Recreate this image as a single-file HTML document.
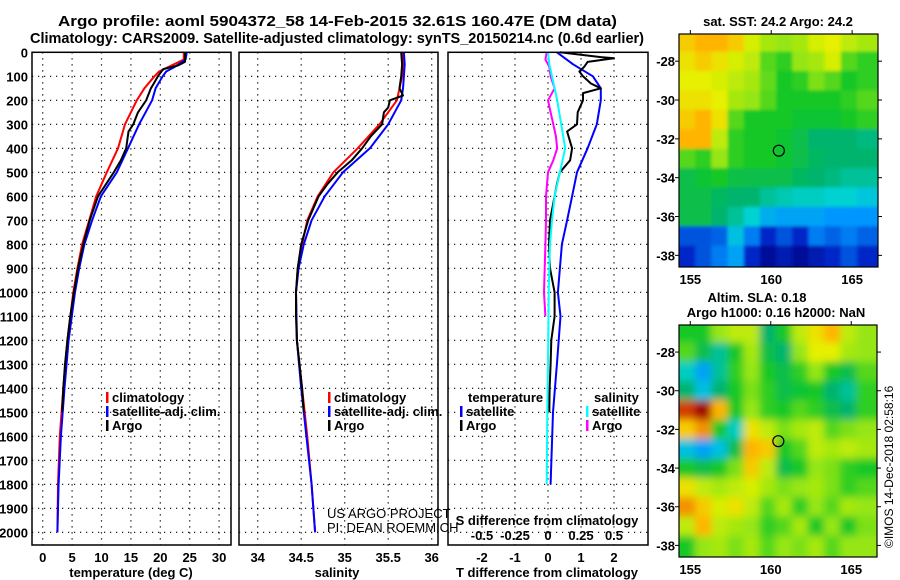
<!DOCTYPE html>
<html><head><meta charset="utf-8">
<style>
html,body{margin:0;padding:0;background:#fff;}
svg{display:block;font-family:"Liberation Sans",Arial,sans-serif;}
.t{font-weight:bold;font-size:13px;}
.h{font-weight:bold;font-size:15px;}
</style></head>
<body>
<svg id="fig" width="900" height="580" viewBox="0 0 900 580" xmlns="http://www.w3.org/2000/svg">
<defs>
<filter id="blurS" x="0" y="0" width="1" height="1"><feGaussianBlur stdDeviation="4" edgeMode="duplicate"/></filter>
<filter id="blurT" x="0" y="0" width="1" height="1"><feGaussianBlur stdDeviation="1.5" edgeMode="duplicate"/></filter>
<clipPath id="clip1"><rect x="679" y="34" width="199" height="233"/></clipPath>
<clipPath id="clip2"><rect x="679" y="325" width="198" height="232"/></clipPath>
</defs>
<rect width="900" height="580" fill="#fff"/>
<text class="h" x="58" y="26" textLength="559" lengthAdjust="spacingAndGlyphs">Argo profile: aoml 5904372_58 14-Feb-2015 32.61S 160.47E (DM data)</text>
<text class="h" x="30" y="43" textLength="614" lengthAdjust="spacingAndGlyphs">Climatology: CARS2009. Satellite-adjusted climatology: synTS_20150214.nc (0.6d earlier)</text>
<g id="g"></g>
<text font-size="12" transform="translate(893,548) rotate(-90)">©IMOS 14-Dec-2018 02:58:16</text>
</svg>
<script>
// ---- profile data ----
const tDepthArgo = [0,40,55,70,100,130,150,200,250,300,330,400,450,500,600,700,800,900,1000,1100,1200,1300,1400,1500];
const tArgo      = [24.2,24.2,23,20.5,19.6,18.9,18.4,17.6,16.2,15.4,14.6,14.2,13.3,12.1,9.4,8.0,6.9,6.0,5.3,4.7,4.2,3.8,3.5,3.3];
const tDepthClim = [0,30,60,80,100,150,200,300,400,500,600,700,800,900,1000,1200,1400,1600,1800,2000];
const tClim      = [24.0,24.0,21.5,19.8,19.0,17.3,16.0,14.0,12.8,10.9,9.1,7.9,6.7,5.9,5.2,4.2,3.5,2.9,2.6,2.5];
const tSat       = [24.5,24.3,22.5,21.0,20.4,19.2,18.6,16.4,14.5,12.6,9.9,8.4,7.1,6.2,5.5,4.4,3.7,3.1,2.7,2.5];
const sDepthArgo = [0,50,100,150,180,200,230,250,300,350,400,450,500,550,600,700,800,900,1000,1100,1200,1300,1400,1500];
const sArgo      = [35.65,35.66,35.65,35.63,35.67,35.52,35.5,35.45,35.43,35.3,35.2,35.08,34.92,34.8,34.7,34.58,34.5,34.46,34.44,34.44,34.45,34.48,34.51,34.53];
const sDepthClim = [0,50,100,150,200,300,400,500,600,700,800,900,1000,1200,1400,1600,1800,2000];
const sClim      = [35.66,35.67,35.66,35.63,35.6,35.4,35.15,34.87,34.69,34.57,34.51,34.46,34.44,34.45,34.51,34.57,34.62,34.66];
const sSat       = [35.68,35.69,35.68,35.67,35.65,35.5,35.29,34.98,34.77,34.62,34.53,34.47,34.44,34.45,34.5,34.56,34.62,34.66];
// differences
const dDepthSat  = [0,50,100,150,200,300,400,500,600,700,800,900,1000,1100,1300,1500,1800];
const dTSat      = [0.27,0.76,1.36,1.6,1.6,1.48,1.2,0.88,0.73,0.58,0.42,0.36,0.3,0.38,0.27,0.15,0.08];
const dSSat      = [0,0.01,0.03,0.05,0.07,0.1,0.13,0.09,0.05,0.03,0.015,0.01,0.005,0.004,0.0,-0.005,-0.01];
const dDepthArgoT = [0,20,25,40,60,80,100,130,150,170,200,250,300,330,400,450,500,550,600,700,800,900,1000,1100,1200,1300,1400,1500];
const dTArgo      = [0.36,1.6,2.0,1.2,1.1,0.95,1.06,1.3,1.6,1.06,1.06,0.9,0.88,0.58,0.73,0.67,0.36,0.27,0.2,0.06,0.03,0.06,0.2,0.2,0.1,0.08,0.05,0.04];
const dDepthArgoS = [0,30,60,100,150,200,250,300,350,400,450,500,600,700,800,1000,1100];
const dSArgo      = [-0.01,-0.02,0.01,0.02,0.05,0.0,0.02,0.04,0.06,0.07,0.04,0.0,-0.015,-0.015,-0.02,-0.03,-0.02];
const depthTicks = [0,100,200,300,400,500,600,700,800,900,1000,1100,1200,1300,1400,1500,1600,1700,1800,1900,2000];
const tTicks = [0,5,10,15,20,25,30];
const sTicks = [34,34.5,35,35.5,36];
const tdTicks = [-2,-1,0,1,2];
const sdTicks = [-0.5,-0.25,0,0.25,0.5];
// ---- map data (value 0..1 on colour scale), rows lat -27..-38, cols lon 154.8..165.8 ----
const mapLats = [-27,-28,-29,-30,-31,-32,-33,-34,-35,-36,-37,-38];
const mapLons = [154.8,155.8,156.8,157.8,158.8,159.8,160.8,161.8,162.8,163.8,164.8,165.8];
const sstGrid = [
[0.85,0.88,0.88,0.85,0.78,0.72,0.70,0.72,0.78,0.80,0.75,0.72],
[0.82,0.85,0.82,0.78,0.75,0.65,0.62,0.70,0.72,0.78,0.65,0.62],
[0.80,0.80,0.78,0.75,0.72,0.66,0.60,0.62,0.68,0.65,0.60,0.62],
[0.82,0.82,0.80,0.72,0.70,0.65,0.60,0.60,0.60,0.60,0.62,0.65],
[0.85,0.88,0.82,0.65,0.60,0.60,0.60,0.58,0.58,0.58,0.60,0.62],
[0.88,0.88,0.75,0.62,0.60,0.60,0.58,0.55,0.50,0.50,0.50,0.48],
[0.65,0.62,0.70,0.62,0.60,0.60,0.58,0.55,0.52,0.50,0.50,0.50],
[0.55,0.58,0.60,0.56,0.55,0.55,0.55,0.52,0.50,0.48,0.45,0.45],
[0.55,0.55,0.52,0.50,0.50,0.45,0.42,0.40,0.40,0.38,0.38,0.36],
[0.55,0.55,0.50,0.45,0.38,0.32,0.30,0.30,0.30,0.28,0.28,0.28],
[0.20,0.20,0.22,0.35,0.25,0.15,0.20,0.15,0.25,0.22,0.25,0.22],
[0.15,0.20,0.25,0.30,0.15,0.05,0.10,0.05,0.10,0.15,0.20,0.15]];
const slaGrid = [
[0.60,0.60,0.70,0.75,0.75,0.50,0.60,0.75,0.82,0.88,0.75,0.70],
[0.65,0.55,0.45,0.60,0.72,0.55,0.50,0.70,0.80,0.80,0.72,0.70],
[0.40,0.30,0.45,0.62,0.70,0.60,0.55,0.62,0.70,0.60,0.55,0.65],
[0.50,0.35,0.50,0.60,0.68,0.62,0.55,0.58,0.60,0.50,0.45,0.62],
[0.95,1.00,0.88,0.60,0.70,0.62,0.60,0.65,0.62,0.55,0.50,0.62],
[0.85,0.90,0.60,0.40,0.82,0.75,0.68,0.72,0.75,0.65,0.68,0.70],
[0.35,0.30,0.35,0.55,0.88,0.85,0.60,0.65,0.75,0.72,0.75,0.72],
[0.60,0.55,0.60,0.68,0.85,0.75,0.55,0.60,0.70,0.68,0.62,0.60],
[0.82,0.75,0.72,0.75,0.78,0.72,0.68,0.70,0.72,0.68,0.62,0.65],
[0.90,0.85,0.78,0.82,0.75,0.65,0.72,0.62,0.70,0.65,0.72,0.70],
[0.75,0.88,0.75,0.72,0.70,0.62,0.65,0.72,0.60,0.70,0.60,0.68],
[0.60,0.70,0.72,0.68,0.72,0.65,0.70,0.68,0.72,0.65,0.70,0.70]];
const floatLon = 160.47, floatLat = -32.61;
const latTicks = [-28,-30,-32,-34,-36,-38];
const lonTicks = [155,160,165];

const NS="http://www.w3.org/2000/svg";
const G=document.getElementById('g');
function el(tag,attrs,parent){const e=document.createElementNS(NS,tag);for(const k in attrs)e.setAttribute(k,attrs[k]);(parent||G).appendChild(e);return e;}
const Y0=52.3, PXD=0.24, BOT=545;
const yD=d=>Y0+d*PXD;
const xT=v=>42.7+v*5.88;
const xS=v=>257.7+(v-34)*87;
const xTd=v=>548+v*33;
const xSd=v=>548+v*132;
const panels=[{x0:32,x1:231,name:'temperature-panel'},{x0:239,x1:438,name:'salinity-panel'},{x0:448,x1:648,name:'difference-panel'}];

function grid(p,xs){
  depthTicks.forEach(d=>{const l=el('line',{x1:p.x0,x2:p.x1,y1:yD(d),y2:yD(d),stroke:'#000','stroke-width':1.2,'stroke-dasharray':'1.2 4.8'});
    
    });
  xs.forEach(x=>{const l=el('line',{x1:x,x2:x,y1:Y0,y2:BOT,stroke:'#000','stroke-width':1.2,'stroke-dasharray':'1.2 4.8'});
    
    });
}
function frame(p){const r=el('rect',{x:p.x0,y:Y0,width:p.x1-p.x0,height:BOT-Y0,fill:'none',stroke:'#000','stroke-width':1.5});
  
  }
function line(depths,vals,fx,color,name,w){
  const pts=depths.map((d,i)=>fx(vals[i]).toFixed(1)+','+yD(d).toFixed(1)).join(' ');
  const l=el('polyline',{points:pts,fill:'none',stroke:color,'stroke-width':w||2,'stroke-linejoin':'round'});
  
  
}
function txt(x,y,s,opt){const t=el('text',Object.assign({x:x,y:y,class:'t'},opt||{}));t.textContent=s;return t;}

grid(panels[0],tTicks.map(xT));
grid(panels[1],sTicks.map(xS));
grid(panels[2],tdTicks.map(xTd));
line(tDepthClim,tClim,xT,'#f00','temperature-climatology-line');
line(tDepthClim,tSat,xT,'#00f','temperature-satellite-line');
line(tDepthArgo,tArgo,xT,'#000','temperature-argo-line');
line(sDepthClim,sClim,xS,'#f00','salinity-climatology-line');
line(sDepthClim,sSat,xS,'#00f','salinity-satellite-line');
line(sDepthArgo,sArgo,xS,'#000','salinity-argo-line');
line(dDepthSat,dTSat,xTd,'#00f','t-diff-satellite-line');
line(dDepthArgoT,dTArgo,xTd,'#000','t-diff-argo-line');
line(dDepthArgoS,dSArgo,xSd,'#f0f','s-diff-argo-line');
line(dDepthSat,dSSat,xSd,'#0ff','s-diff-satellite-line');
panels.forEach(frame);

depthTicks.forEach(d=>{const t=txt(28,yD(d)+5,String(d),{'text-anchor':'end'});
  
  });
tTicks.forEach(v=>{const t=txt(xT(v),562,String(v),{'text-anchor':'middle'});
  
  });
sTicks.forEach(v=>{const t=txt(xS(v),562,String(v),{'text-anchor':'middle'});
  
  });
tdTicks.forEach(v=>{const t=txt(xTd(v),562,String(v),{'text-anchor':'middle'});
  
  });
sdTicks.forEach(v=>{const t=txt(xSd(v),540,String(v),{'text-anchor':'middle'});
  
  });
let a;
a=txt(131,577,'temperature (deg C)',{'text-anchor':'middle'});
a=txt(337,577,'salinity',{'text-anchor':'middle'});
a=txt(547,577,'T difference from climatology',{'text-anchor':'middle'});
a=txt(547,525,'S difference from climatology',{'text-anchor':'middle'});

function legend(x,y,color,label,name){
  const r=el('rect',{x:x,y:y-10,width:2.5,height:11,fill:color});
  
  
  const t=txt(x+6,y,label);
  
  
}
legend(106,402,'#f00','climatology','legend-t-climatology');
legend(106,416,'#00f','satellite-adj. clim.','legend-t-satellite');
legend(106,430,'#000','Argo','legend-t-argo');
legend(328,402,'#f00','climatology','legend-s-climatology');
legend(328,416,'#00f','satellite-adj. clim.','legend-s-satellite');
legend(328,430,'#000','Argo','legend-s-argo');
a=txt(468,402,'temperature');
legend(460,416,'#00f','satellite','legend-diff-t-satellite');
legend(460,430,'#000','Argo','legend-diff-t-argo');
a=txt(594,402,'salinity');
legend(586,416,'#0ff','satellite','legend-diff-s-satellite');
legend(586,430,'#f0f','Argo','legend-diff-s-argo');
a=txt(327,518,'US ARGO PROJECT',{class:'',style:'font-size:13px;font-weight:normal'});
a=txt(327,532,'PI: DEAN ROEMMICH',{class:'',style:'font-size:13px;font-weight:normal'});

function cmap(v){
  const stops=[[0,[0,0,130]],[0.15,[0,40,200]],[0.28,[0,150,255]],[0.38,[0,210,210]],[0.5,[0,180,110]],[0.6,[20,200,40]],[0.7,[150,230,20]],[0.8,[230,240,0]],[0.88,[255,180,0]],[0.95,[210,60,0]],[1,[160,0,0]]];
  for(let i=1;i<stops.length;i++){if(v<=stops[i][0]){const [a0,c0]=stops[i-1],[a1,c1]=stops[i];const f=(v-a0)/(a1-a0);
    return 'rgb('+c0.map((c,k)=>Math.round(c+(c1[k]-c)*f)).join(',')+')';}}
  return 'rgb(160,0,0)';
}
function drawMap(m){
  const xL=lon=>m.x0+(lon-154.3)/(166.6-154.3)*(m.x1-m.x0);
  const yL=lat=>m.y0+(-26.6-lat)/(38.6-26.6)*(m.y1-m.y0);
  const clip=el('g',{'clip-path':'url(#'+m.clip+')'});
  
  
  const gm=el('g',{filter:'url(#'+m.filter+')'},clip);
  
  
  m.grid.forEach((row,i)=>row.forEach((v,j)=>{
    const lat=mapLats[i],lon=mapLons[j];
    const x0=j===0?m.x0-15:xL(lon-0.5),x1=j===row.length-1?m.x1+15:xL(lon+0.5);
    const y0=i===0?m.y0-15:yL(lat+0.5),y1=i===m.grid.length-1?m.y1+15:yL(lat-0.5);
    const r=el('rect',{x:x0,y:y0,width:x1-x0+0.5,height:y1-y0+0.5,fill:cmap(v)},gm);
    
    
  }));
  const f=el('rect',{x:m.x0,y:m.y0,width:m.x1-m.x0,height:m.y1-m.y0,fill:'none',stroke:'#000','stroke-width':1.2});
  
  
  const c=el('circle',{cx:xL(floatLon),cy:yL(floatLat),r:5.5,fill:'none',stroke:'#000','stroke-width':1.2});
  
  
  latTicks.forEach(l=>{
    const tk=el('line',{x1:m.x0-4,x2:m.x0,y1:yL(l),y2:yL(l),stroke:'#000'});
    
    
    const tk2=el('line',{x1:m.x1,x2:m.x1+4,y1:yL(l),y2:yL(l),stroke:'#000'});
    
    
    const t=txt(m.x0-4,yL(l)+5,String(l),{'text-anchor':'end'});
    
    
  });
  lonTicks.forEach(l=>{
    const tk=el('line',{x1:xL(l),x2:xL(l),y1:m.y0-4,y2:m.y0,stroke:'#000'});
    
    
    const t=txt(xL(l),m.y1+17,String(l),{'text-anchor':'middle'});
    
    
  });
}
drawMap({x0:679,x1:878,y0:34,y1:267,grid:sstGrid,name:'sst-map',clip:'clip1',filter:'blurT'});
drawMap({x0:679,x1:877,y0:325,y1:557,grid:slaGrid,name:'sla-map',clip:'clip2',filter:'blurS'});
a=txt(778,26,'sat. SST: 24.2 Argo: 24.2',{'text-anchor':'middle'});
a=txt(757,302,'Altim. SLA: 0.18',{'text-anchor':'middle'});
a=txt(776,317,'Argo h1000: 0.16 h2000: NaN',{'text-anchor':'middle'});
</script>
</body></html>
